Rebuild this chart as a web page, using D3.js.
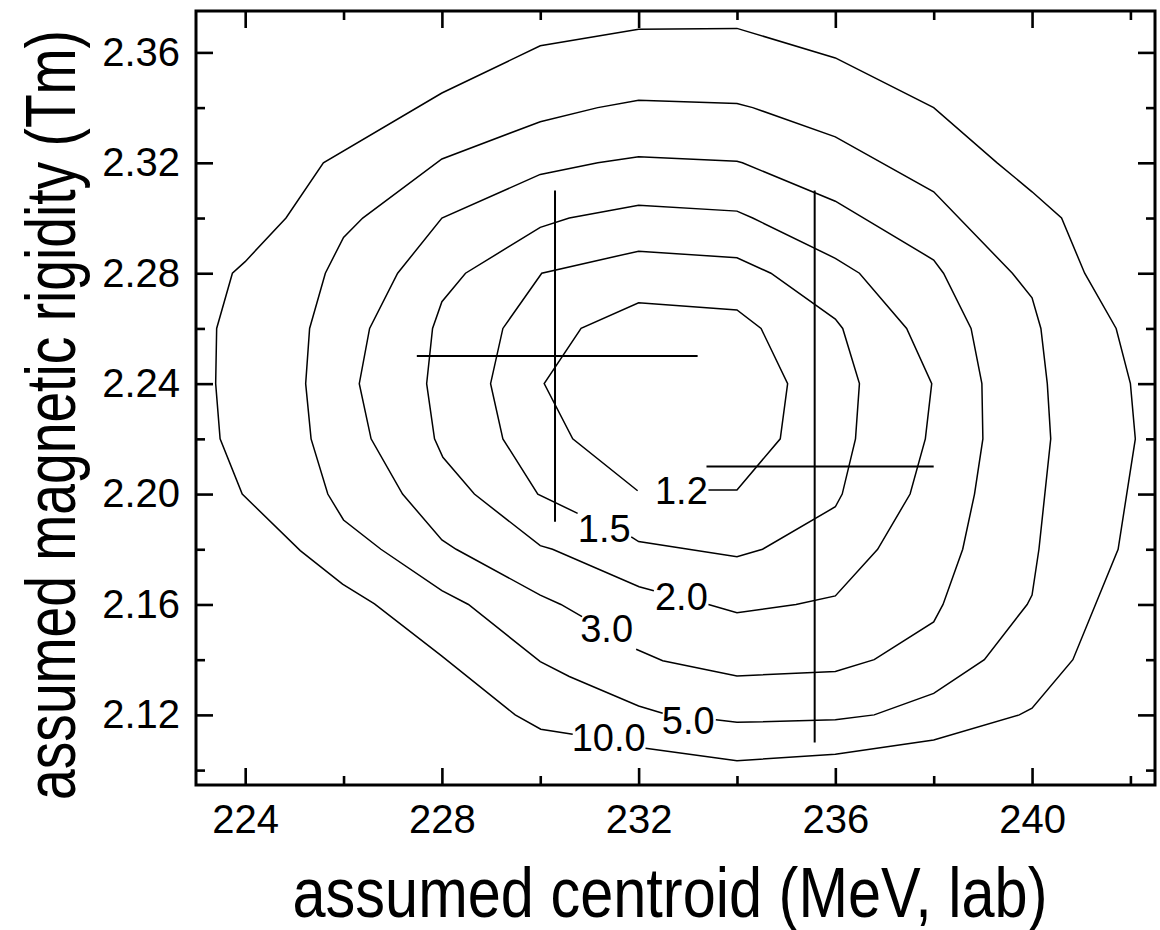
<!DOCTYPE html>
<html>
<head>
<meta charset="utf-8">
<script src="https://cdn.jsdelivr.net/npm/d3@7"></script>
<style>
  html, body { margin: 0; padding: 0; background: #fff; }
  svg { display: block; }
  text { font-family: "Liberation Sans", Arial, Helvetica, sans-serif; fill: #000; }
</style>
</head>
<body>
<svg id="chart" width="1160" height="930"></svg>
<script>
// ---------------- data ----------------
const xMajorTicks = [224, 228, 232, 236, 240];
const xMinorTicks = [226, 230, 234, 238, 242];
const yMajorTicks = [2.12, 2.16, 2.20, 2.24, 2.28, 2.32, 2.36];
const yMinorTicks = [2.10, 2.14, 2.18, 2.22, 2.26, 2.30, 2.34];

const contourLevels = ["10.0", "5.0", "3.0", "2.0", "1.5", "1.2"];

// each contour runs from just after its label round to just before it
const contour10 = [[232.14,2.1079],[234.0,2.1034],[236.0,2.1057],[238.0,2.1109],[239.74,2.12],[240.0,2.1224],[240.83,2.14],[241.75,2.18],[242.1,2.22],[242.0,2.24],[241.71,2.26],[241.07,2.28],[240.6,2.30],[240.0,2.3095],[239.29,2.32],[238.0,2.34],[236.0,2.358],[234.0,2.3687],[232.0,2.3684],[230.0,2.3624],[228.0,2.3453],[225.59,2.32],[224.83,2.30],[224.0,2.2842],[223.74,2.28],[223.42,2.26],[223.40,2.24],[223.49,2.22],[223.94,2.20],[225.12,2.1795],[225.98,2.1674],[226.63,2.1602],[228.0,2.1413],[229.49,2.12],[230.01,2.1148],[230.66,2.113]];
const contour5 = [[233.57,2.1182],[234.0,2.1173],[236.0,2.1182],[236.79,2.12],[238.0,2.1278],[239.03,2.14],[239.9,2.16],[240.0,2.1634],[240.14,2.18],[240.38,2.22],[240.31,2.24],[240.18,2.26],[240.0,2.2711],[239.6,2.28],[238.0,2.3095],[236.0,2.3294],[234.32,2.34],[234.0,2.3415],[232.0,2.3427],[231.17,2.34],[230.0,2.3349],[228.0,2.3214],[226.39,2.30],[226.0,2.293],[225.63,2.28],[225.31,2.26],[225.23,2.24],[225.34,2.22],[225.68,2.20],[226.0,2.1906],[226.76,2.18],[228.0,2.165],[228.54,2.16],[230.0,2.1393],[230.59,2.1339],[232.0,2.1232],[232.49,2.1206]];
const contour3 = [[231.95,2.1438],[232.49,2.1396],[234.0,2.1341],[236.0,2.1357],[236.79,2.14],[238.0,2.1537],[238.19,2.16],[238.59,2.18],[238.83,2.20],[239.0,2.22],[238.98,2.24],[238.76,2.26],[238.2,2.28],[238.0,2.2848],[236.0,2.3061],[234.11,2.32],[234.0,2.3206],[232.0,2.3222],[231.17,2.32],[230.0,2.3158],[228.0,2.30],[227.10,2.28],[226.53,2.26],[226.32,2.24],[226.56,2.22],[227.2,2.20],[228.0,2.1834],[228.29,2.18],[230.0,2.1634],[230.42,2.16],[230.85,2.1556]];
const contour2 = [[233.42,2.16],[234.0,2.157],[235.2,2.16],[236.0,2.1631],[236.86,2.18],[237.52,2.20],[237.83,2.22],[237.96,2.24],[237.45,2.26],[236.49,2.28],[236.0,2.2854],[234.32,2.30],[234.0,2.3025],[232.0,2.3046],[230.59,2.30],[230.0,2.2966],[228.48,2.28],[228.0,2.2697],[227.81,2.26],[227.69,2.24],[227.85,2.22],[228.02,2.2133],[228.66,2.20],[230.0,2.1813],[230.25,2.18],[232.01,2.1664],[232.31,2.165]];
const contour15 = [[231.85,2.1845],[232.0,2.1828],[234.0,2.1773],[234.52,2.18],[236.0,2.1954],[236.14,2.20],[236.41,2.22],[236.49,2.24],[236.15,2.26],[236.0,2.2634],[234.69,2.28],[234.0,2.2856],[232.0,2.288],[230.03,2.28],[229.24,2.26],[228.99,2.24],[229.24,2.22],[229.95,2.20],[230.76,2.193]];
const contour12 = [[233.42,2.2015],[234.0,2.2015],[234.88,2.22],[235.03,2.24],[234.49,2.26],[234.0,2.2667],[232.0,2.2693],[230.83,2.26],[230.08,2.24],[230.66,2.22],[231.98,2.2012]];

const labelX = [231.39, 233.01, 231.35, 232.87, 231.30, 232.87];
const labelY = [2.1118, 2.1182, 2.1515, 2.1628, 2.1877, 2.2015];

// crosshairs: centre, horizontal extent, vertical extent
const crossX    = [230.30, 235.58];
const crossY    = [2.25, 2.21];
const crossXLow = [227.49, 233.38];
const crossXHigh= [233.20, 238.00];
const crossYLow = [2.19, 2.11];
const crossYHigh= [2.31, 2.31];

const xTitle = "assumed centroid (MeV, lab)";
const yTitle = "assumed magnetic rigidity (Tm)";

// ---------------- drawing ----------------
const svg = d3.select("#chart");
const L = 196, R = 1155, T = 11, B = 785;

const x = d3.scaleLinear().domain([223, 242.5]).range([L, R]);
const y = d3.scaleLinear().domain([2.0946, 2.375]).range([B, T]);

const contours = [contour10, contour5, contour3, contour2, contour15, contour12];
const line = d3.line().x(d => x(d[0])).y(d => y(d[1]));

const g = svg.append("g");

g.selectAll("path.contour")
  .data(contours)
  .join("path")
  .attr("class", "contour")
  .attr("d", line)
  .attr("fill", "none")
  .attr("stroke", "#000")
  .attr("stroke-width", 1.5)
  .attr("stroke-linejoin", "miter");

g.selectAll("text.clabel")
  .data(contourLevels)
  .join("text")
  .attr("class", "clabel")
  .attr("x", (d, i) => x(labelX[i]))
  .attr("y", (d, i) => y(labelY[i]))
  .attr("dy", "0.36em")
  .attr("text-anchor", "middle")
  .attr("font-size", 38)
  .text(d => d);

// crosshairs
const crossIdx = d3.range(crossX.length);
g.selectAll("line.ch")
  .data(crossIdx)
  .join("line")
  .attr("class", "ch")
  .attr("x1", i => x(crossXLow[i])).attr("x2", i => x(crossXHigh[i]))
  .attr("y1", i => y(crossY[i])).attr("y2", i => y(crossY[i]))
  .attr("stroke", "#000").attr("stroke-width", 2);
g.selectAll("line.cv")
  .data(crossIdx)
  .join("line")
  .attr("class", "cv")
  .attr("x1", i => x(crossX[i])).attr("x2", i => x(crossX[i]))
  .attr("y1", i => y(crossYLow[i])).attr("y2", i => y(crossYHigh[i]))
  .attr("stroke", "#000").attr("stroke-width", 2);

// axes (ticks inside, on all four sides)
function styleAxis(sel) {
  sel.select(".domain").remove();
  sel.selectAll(".tick line").attr("stroke", "#000").attr("stroke-width", 2.6);
  sel.selectAll(".tick text").attr("font-size", 40).attr("fill", "#000")
     .style("font-family", '"Liberation Sans", Arial, sans-serif');
}
const majLen = 17, minLen = 9;

// bottom
svg.append("g").attr("transform", `translate(0,${B})`)
  .call(d3.axisTop(x).tickValues(xMajorTicks).tickSize(majLen).tickFormat(""))
  .call(styleAxis);
svg.append("g").attr("transform", `translate(0,${B})`)
  .call(d3.axisTop(x).tickValues(xMinorTicks).tickSize(minLen).tickFormat(""))
  .call(styleAxis);
svg.append("g").attr("transform", `translate(0,${B})`)
  .call(d3.axisBottom(x).tickValues(xMajorTicks).tickSize(0).tickPadding(20).tickFormat(d3.format("d")))
  .call(styleAxis);
// top
svg.append("g").attr("transform", `translate(0,${T})`)
  .call(d3.axisBottom(x).tickValues(xMajorTicks).tickSize(majLen).tickFormat(""))
  .call(styleAxis);
svg.append("g").attr("transform", `translate(0,${T})`)
  .call(d3.axisBottom(x).tickValues(xMinorTicks).tickSize(minLen).tickFormat(""))
  .call(styleAxis);
// left
svg.append("g").attr("transform", `translate(${L},0)`)
  .call(d3.axisRight(y).tickValues(yMajorTicks).tickSize(majLen).tickFormat(""))
  .call(styleAxis);
svg.append("g").attr("transform", `translate(${L},0)`)
  .call(d3.axisRight(y).tickValues(yMinorTicks).tickSize(minLen).tickFormat(""))
  .call(styleAxis);
svg.append("g").attr("transform", `translate(${L},0)`)
  .call(d3.axisLeft(y).tickValues(yMajorTicks).tickSize(0).tickPadding(16).tickFormat(d3.format(".2f")))
  .call(styleAxis);
// right
svg.append("g").attr("transform", `translate(${R},0)`)
  .call(d3.axisLeft(y).tickValues(yMajorTicks).tickSize(majLen).tickFormat(""))
  .call(styleAxis);
svg.append("g").attr("transform", `translate(${R},0)`)
  .call(d3.axisLeft(y).tickValues(yMinorTicks).tickSize(minLen).tickFormat(""))
  .call(styleAxis);

// frame
svg.append("rect")
  .attr("x", L).attr("y", T).attr("width", R - L).attr("height", B - T)
  .attr("fill", "none").attr("stroke", "#000").attr("stroke-width", 3);

// titles
svg.append("text")
  .attr("x", 670).attr("y", 917)
  .attr("text-anchor", "middle")
  .attr("font-size", 70)
  .attr("textLength", 755).attr("lengthAdjust", "spacingAndGlyphs")
  .text(xTitle);

svg.append("text")
  .attr("transform", "translate(75,415) rotate(-90)")
  .attr("text-anchor", "middle")
  .attr("font-size", 70)
  .attr("textLength", 770).attr("lengthAdjust", "spacingAndGlyphs")
  .text(yTitle);
</script>
</body>
</html>
